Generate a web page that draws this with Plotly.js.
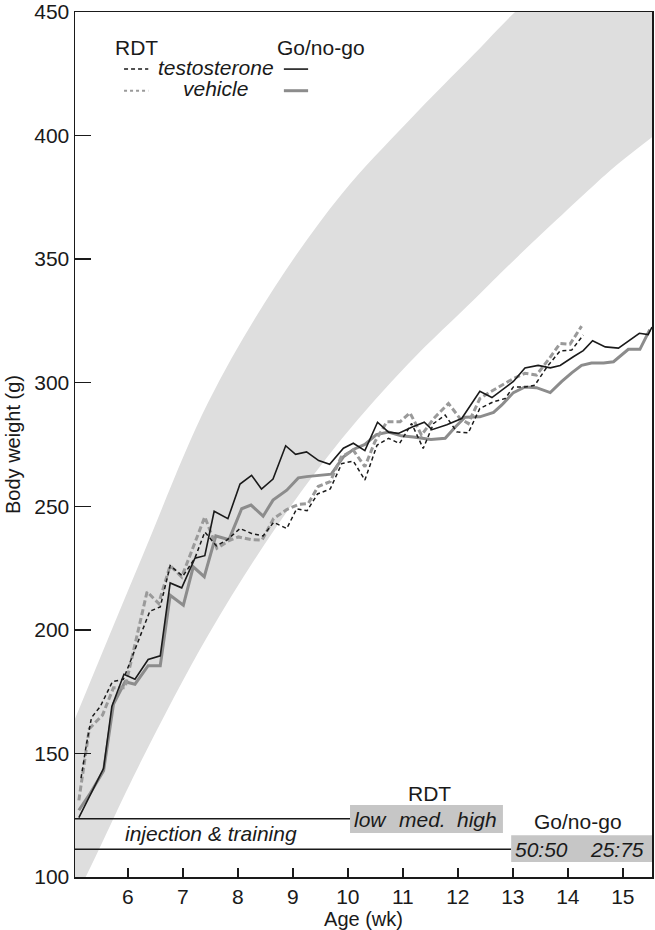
<!DOCTYPE html>
<html>
<head>
<meta charset="utf-8">
<script src="https://cdn.plot.ly/plotly-3.0.1.min.js"></script>
<style>
  html, body { margin: 0; padding: 0; background: #fff; }
  #myPlot { width: 655px; height: 930px; }
</style>
</head>
<body>
<div id="myPlot"></div>
<script>

// Go/no-go, testosterone (black solid)
let ageGoT = [5.11, 5.29, 5.56, 5.71, 5.93, 6.13, 6.37, 6.59, 6.77, 6.98, 7.22, 7.40, 7.57, 7.82, 8.04, 8.25, 8.43, 8.64, 8.87, 9.05, 9.25, 9.47, 9.67, 9.92, 10.10, 10.31, 10.54, 10.74, 10.92, 11.16, 11.39, 11.53, 11.80, 12.07, 12.40, 12.62, 13.01, 13.22, 13.46, 13.68, 13.86, 14.10, 14.28, 14.45, 14.68, 14.92, 15.30, 15.46, 15.53];
let weightGoT = [124, 132, 144, 169, 182, 180, 188, 189.5, 219, 217, 229, 230, 248, 245, 259, 262.5, 257, 261, 274.5, 271, 272, 268.5, 267, 273.5, 275.5, 272.5, 284, 280, 279.5, 282, 284, 281, 283, 285.5, 296.5, 294, 300.5, 306, 307, 306, 307, 310.5, 313, 317, 314.5, 314, 320, 319.5, 322.5];

// Go/no-go, vehicle (grey solid)
let ageGoV = [5.11, 5.32, 5.56, 5.74, 5.95, 6.13, 6.37, 6.59, 6.77, 7.01, 7.19, 7.39, 7.60, 7.84, 8.07, 8.24, 8.46, 8.64, 8.89, 9.10, 9.25, 9.70, 9.92, 10.10, 10.31, 10.52, 10.74, 10.97, 11.19, 11.51, 11.77, 11.95, 12.13, 12.40, 12.65, 12.80, 13.01, 13.22, 13.43, 13.68, 13.89, 14.07, 14.25, 14.43, 14.65, 14.83, 15.10, 15.31, 15.49];
let weightGoV = [127, 134, 143, 170, 179, 178, 185.5, 185.5, 214, 210, 225.5, 221.5, 238, 236.5, 249, 250.5, 246, 252.5, 256.5, 261.5, 262, 263, 270, 273, 275, 279, 280, 278.5, 278, 277, 277.5, 282, 286, 286.2, 288, 291, 296, 298.3, 298, 296, 300.5, 304, 307, 308, 308, 308.5, 313.5, 313.5, 321.5];

// RDT, testosterone (black dashed)
let ageRdtT = [5.15, 5.25, 5.34, 5.50, 5.72, 5.92, 6.40, 6.59, 6.77, 7.00, 7.22, 7.40, 7.61, 7.80, 8.04, 8.25, 8.46, 8.65, 8.89, 9.07, 9.26, 9.45, 9.68, 9.89, 10.10, 10.31, 10.53, 10.74, 10.94, 11.16, 11.37, 11.56, 11.77, 11.98, 12.19, 12.40, 12.65, 12.86, 13.01, 13.22, 13.40, 13.62, 13.86, 14.07, 14.28];
let weightRdtT = [140, 154, 164.5, 169, 179, 180, 207.5, 209.3, 226, 221.7, 229, 239.6, 234, 236.3, 241, 239, 238, 243.5, 241, 249, 248.2, 255, 257, 267.3, 268.3, 260.6, 274.7, 277.5, 275.4, 283.5, 273.4, 283.5, 286.9, 280.1, 279.7, 289.6, 292.3, 293.6, 298.3, 298.3, 299, 306.4, 312.9, 313.2, 319.3];

// RDT, vehicle (grey dashed)
let ageRdtV = [5.11, 5.30, 5.54, 5.74, 5.95, 6.35, 6.56, 6.77, 6.98, 7.40, 7.62, 7.83, 8.01, 8.24, 8.44, 8.65, 8.89, 9.11, 9.28, 9.46, 9.68, 9.88, 10.10, 10.31, 10.49, 10.71, 10.95, 11.13, 11.34, 11.56, 11.83, 12.04, 12.19, 12.40, 12.59, 12.80, 13.01, 13.22, 13.43, 13.64, 13.86, 14.04, 14.25];
let weightRdtV = [131, 160, 165.5, 176.6, 176.6, 215.4, 210.7, 226, 221.4, 245.7, 233, 236, 237.6, 236.5, 236.3, 245, 248.7, 250.8, 251.1, 258, 260, 270, 272.7, 266, 276, 284.2, 284.2, 287.8, 278.8, 285.5, 291.6, 285.5, 283.5, 293.6, 296.3, 299, 301.7, 303.8, 303.1, 309.1, 315.9, 315.6, 322.9];

// normal growth range (grey band), upper part runs off the top
let bandLowAge = [5.04, 5.25, 6.25, 7.46, 8.68, 9.89, 11.10, 12.31, 13.04, 14.43, 14.83, 15.6];
let bandLowWeight = [92, 100.7, 147.2, 197.8, 241, 277.3, 307.7, 334, 350, 379, 387, 400.5];
let bandHighAge = [5.04, 6.25, 7.46, 8.68, 9.89, 11.10, 12.31, 13.04, 14.5, 15.6];
let bandHighWeight = [164, 229, 292, 339, 376.4, 405.8, 433.3, 450, 479, 500];

// schedule bars at the bottom
let rdtPhases = ["low", "med.", "high"];
let rdtPhaseMid = [10.42, 11.35, 12.35];
let rdtPhaseAge = [10.04, 12.82];
let goPhases = ["50:50", "25:75"];
let goPhaseMid = [13.53, 14.89];
let goPhaseAge = [12.97, 15.6];

const X_MIN = 5.04;
const X_MAX = 15.53;
const FONT = "Liberation Sans, Arial, Helvetica, sans-serif";
const BLACK = "#1a1a1a";
const GREY = "#8c8c8c";
const GREY_DASH = "#9a9a9a";
const BAND = "#dedede";
const BOX = "#c6c6c6";

function renderChart() {

    // band edges are smooth curves in the original
    const bandLow = {
        x: bandLowAge, y: bandLowWeight,
        mode: "lines", line: { width: 0, color: BAND, shape: "spline", smoothing: 1 },
        hoverinfo: "skip", showlegend: false
    };
    const bandHigh = {
        x: bandHighAge, y: bandHighWeight,
        mode: "lines", line: { width: 0, color: BAND, shape: "spline", smoothing: 1 },
        fill: "tonexty", fillcolor: BAND,
        hoverinfo: "skip", showlegend: false
    };

    const goVehicle = {
        x: ageGoV, y: weightGoV, mode: "lines",
        line: { color: GREY, width: 3 }, name: "Go/no-go vehicle"
    };
    const rdtVehicle = {
        x: ageRdtV, y: weightRdtV, mode: "lines",
        line: { color: GREY_DASH, width: 3, dash: "6px,3px" }, name: "RDT vehicle"
    };
    const rdtTesto = {
        x: ageRdtT, y: weightRdtT, mode: "lines",
        line: { color: BLACK, width: 1.5, dash: "4px,3px" }, name: "RDT testosterone"
    };
    const goTesto = {
        x: ageGoT, y: weightGoT, mode: "lines",
        line: { color: BLACK, width: 1.6 }, name: "Go/no-go testosterone"
    };

    // legend is drawn by hand (two columns round the labels)
    const legendY = [0.934, 0.909];
    const shapes = [
        { type: "line", xref: "paper", yref: "paper", x0: 0.085, x1: 0.127, y0: legendY[0], y1: legendY[0], line: { color: BLACK, width: 1.5, dash: "4px,3px" } },
        { type: "line", xref: "paper", yref: "paper", x0: 0.085, x1: 0.127, y0: legendY[1], y1: legendY[1], line: { color: GREY_DASH, width: 2, dash: "3px,3px" } },
        { type: "line", xref: "paper", yref: "paper", x0: 0.362, x1: 0.404, y0: legendY[0], y1: legendY[0], line: { color: BLACK, width: 1.6 } },
        { type: "line", xref: "paper", yref: "paper", x0: 0.362, x1: 0.404, y0: legendY[1], y1: legendY[1], line: { color: GREY, width: 3 } },

        // schedule lines and boxes
        { type: "line", xref: "x", yref: "y", x0: X_MIN, x1: rdtPhaseAge[0], y0: 123.6, y1: 123.6, line: { color: BLACK, width: 1.5 } },
        { type: "line", xref: "x", yref: "y", x0: X_MIN, x1: goPhaseAge[0], y0: 111.2, y1: 111.2, line: { color: BLACK, width: 1.5 } },
        { type: "rect", xref: "x", yref: "y", x0: rdtPhaseAge[0], x1: rdtPhaseAge[1], y0: 117.8, y1: 129.1, fillcolor: BOX, line: { width: 0 } },
        { type: "rect", xref: "x", yref: "y", x0: goPhaseAge[0], x1: goPhaseAge[1], y0: 106.1, y1: 116.9, fillcolor: BOX, line: { width: 0 } }
    ];

    const txt = (s, x, y, opts) => Object.assign({
        text: s, x: x, y: y, xref: "x", yref: "y", showarrow: false,
        xanchor: "center", yanchor: "middle",
        font: { family: FONT, size: 21, color: BLACK }
    }, opts || {});
    const paper = { xref: "paper", yref: "paper" };

    const annotations = [
        txt("RDT", 0.106, 0.959, paper),
        txt("Go/no-go", 0.426, 0.959, paper),
        txt("<i>testosterone</i>", 0.244, legendY[0] + 0.002, paper),
        txt("<i>vehicle</i>", 0.244, legendY[1] + 0.002, paper),

        txt("RDT", 11.48, 133.9),
        txt("<i>injection & training</i>", 7.51, 117.7),
        txt("Go/no-go", 14.19, 122.3)
    ];
    rdtPhases.forEach((p, i) => annotations.push(txt("<i>" + p + "</i>", rdtPhaseMid[i], 123.2)));
    goPhases.forEach((p, i) => annotations.push(txt("<i>" + p + "</i>", goPhaseMid[i], 111.2)));

    const layout = {
        width: 655,
        height: 930,
        margin: { l: 75, r: 3, t: 12, b: 53 },
        paper_bgcolor: "#fff",
        plot_bgcolor: "#fff",
        showlegend: false,
        font: { family: FONT, size: 20, color: BLACK },
        xaxis: {
            range: [X_MIN, X_MAX],
            tickvals: [6, 7, 8, 9, 10, 11, 12, 13, 14, 15],
            ticks: "inside", ticklen: 9, tickwidth: 1.5, tickcolor: BLACK,
            showline: true, linecolor: BLACK, linewidth: 1.5, mirror: true,
            showgrid: false, zeroline: false,
            tickfont: { family: FONT, size: 21, color: BLACK },
            title: { text: "Age (wk)", standoff: 3, font: { family: FONT, size: 20, color: BLACK } }
        },
        yaxis: {
            range: [100, 450],
            tickvals: [100, 150, 200, 250, 300, 350, 400, 450],
            ticks: "inside", ticklen: 16, tickwidth: 1.5, tickcolor: BLACK,
            showline: true, linecolor: BLACK, linewidth: 1.5, mirror: true,
            showgrid: false, zeroline: false,
            tickfont: { family: FONT, size: 21, color: BLACK },
            title: { text: "Body weight (g)", standoff: 8, font: { family: FONT, size: 20, color: BLACK } }
        },
        shapes: shapes,
        annotations: annotations
    };

    Plotly.newPlot("myPlot", [bandLow, bandHigh, goVehicle, rdtVehicle, rdtTesto, goTesto], layout, { staticPlot: true });
}

renderChart();
</script>
</body>
</html>
